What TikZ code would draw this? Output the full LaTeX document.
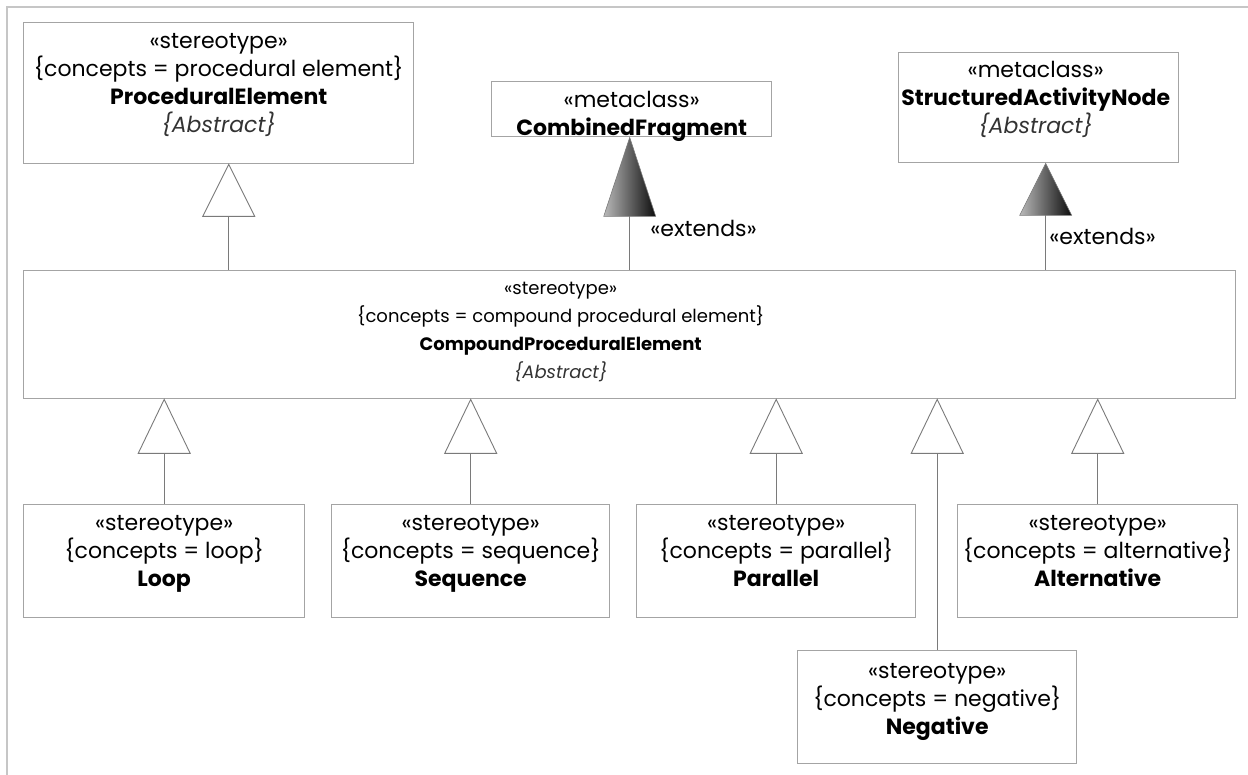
\documentclass[tikz,border=0pt]{standalone}
\usepackage{fontspec}
\setmainfont{Poppins}
\usetikzlibrary{positioning, calc}
\definecolor{boxgray}{HTML}{A4A4A4}
\definecolor{linegray}{HTML}{7A7A7A}
\definecolor{framegray}{HTML}{C6C6C6}
\definecolor{absgray}{HTML}{333333}
\tikzset{
  uml/.style={
	x=1pt, y=-1pt, % one unit is one pixel of the page, y grows downwards
	font=\fontsize{22}{28}\selectfont,
	every node/.style={inner sep=0pt},
  },
  classbox/.style={draw=boxgray, line width=1.4pt, anchor=north west}, % the class rectangles
  classtext/.style={align=center}, % the lines of text in a class
  gentri/.style={draw=linegray, line width=0.9pt, fill=white}, % hollow generalisation head
  exttri/.style={draw=linegray, line width=0.6pt, left color=gray!55, right color=black!95}, % filled extension head
  assoc/.style={draw=linegray, line width=1.1pt},
}
\newcommand{\abstr}{{\itshape\color{absgray}\{Abstract\}}}

\begin{document}
\begin{tikzpicture}[uml]
	  \useasboundingbox (0,0) rectangle (1248,775);
	  \draw[framegray, line width=2pt] (7,775) -- (7,7) -- (1248,7);
	  % upper row
	  \node[classbox, minimum width=390, minimum height=141] (pe) at (23,22) {};
	  \node[classtext, below=11pt of pe.north] (petext) {«stereotype»\\\{concepts = procedural element\}\\\textbf{ProceduralElement}\\\abstr};
	  \node[classbox, minimum width=280, minimum height=55] (cf) at (491,81) {};
	  \node[classtext, below=10pt of cf.north] (cftext) {«metaclass»\\\textbf{CombinedFragment}};
	  \node[classbox, minimum width=280, minimum height=110] (san) at (898,52) {};
	  \node[classtext, below=9pt of san.north, xshift=-3pt] (santext) {«metaclass»\\\textbf{StructuredActivityNode}\\\abstr};
	  % compound element
	  \node[classbox, minimum width=1212, minimum height=128] (cpe) at (23,270) {};
	  \node[classtext, font=\fontsize{18}{28}\selectfont, below=12pt of cpe.north, xshift=-69pt] (cpetext) {«stereotype»\\\{concepts = compound procedural element\}\\\textbf{CompoundProceduralElement}\\\abstr};
	  % lower row
	  \node[classbox, minimum width=281, minimum height=113] (loop) at (23,504) {};
	  \node[classtext, below=11pt of loop.north] (looptext) {«stereotype»\\\{concepts = loop\}\\\textbf{Loop}};
	  \node[classbox, minimum width=278, minimum height=113] (seq) at (331,504) {};
	  \node[classtext, below=11pt of seq.north] (seqtext) {«stereotype»\\\{concepts = sequence\}\\\textbf{Sequence}};
	  \node[classbox, minimum width=279, minimum height=113] (par) at (636,504) {};
	  \node[classtext, below=11pt of par.north] (partext) {«stereotype»\\\{concepts = parallel\}\\\textbf{Parallel}};
	  \node[classbox, minimum width=280, minimum height=113] (alt) at (957,504) {};
	  \node[classtext, below=11pt of alt.north] (alttext) {«stereotype»\\\{concepts = alternative\}\\\textbf{Alternative}};
	  \node[classbox, minimum width=279, minimum height=113] (neg) at (797,650) {};
	  \node[classtext, below=13pt of neg.north] (negtext) {«stereotype»\\\{concepts = negative\}\\\textbf{Negative}};
	  % heads above the compound element
	  \coordinate (gpe) at ([xshift=10pt]pe.south);
	  \draw[gentri] (gpe) -- ++(26,52) -- ++(-52,0) -- cycle;
	  \draw[assoc] (gpe) ++(0,52) -- (gpe |- cpe.north);
	  \coordinate (gcf) at ([xshift=-2pt]cf.south);
	  \draw[exttri] (gcf) -- ++(26,79) -- ++(-52,0) -- cycle;
	  \draw[assoc] (gcf) ++(0,79) -- node[pos=0.22, right=20pt] (ext1) {«extends»} (gcf |- cpe.north);
	  \coordinate (gsan) at ([xshift=7pt]san.south);
	  \draw[exttri] (gsan) -- ++(26,52) -- ++(-52,0) -- cycle;
	  \draw[assoc] (gsan) ++(0,52) -- node[pos=0.38, right=3pt] (ext2) {«extends»} (gsan |- cpe.north);
	  % heads below the compound element
	  \coordinate (gloop) at (cpe.south -| loop.north);
	  \coordinate (gseq) at (cpe.south -| seq.north);
	  \coordinate (gpar) at (cpe.south -| par.north);
	  \coordinate (gneg) at (cpe.south -| neg.north);
	  \coordinate (galt) at (cpe.south -| alt.north);
	  \draw[gentri] (gloop) -- ++(26,54) -- ++(-52,0) -- cycle;
	  \draw[gentri] (gseq) -- ++(26,54) -- ++(-52,0) -- cycle;
	  \draw[gentri] (gpar) -- ++(26,54) -- ++(-52,0) -- cycle;
	  \draw[gentri] (gneg) -- ++(26,54) -- ++(-52,0) -- cycle;
	  \draw[gentri] (galt) -- ++(26,54) -- ++(-52,0) -- cycle;
	  \draw[assoc] (gloop) ++(0,54) -- (loop.north);
	  \draw[assoc] (gseq) ++(0,54) -- (seq.north);
	  \draw[assoc] (gpar) ++(0,54) -- (par.north);
	  \draw[assoc] (gneg) ++(0,54) -- (neg.north);
	  \draw[assoc] (galt) ++(0,54) -- (alt.north);
\end{tikzpicture}
\end{document}
